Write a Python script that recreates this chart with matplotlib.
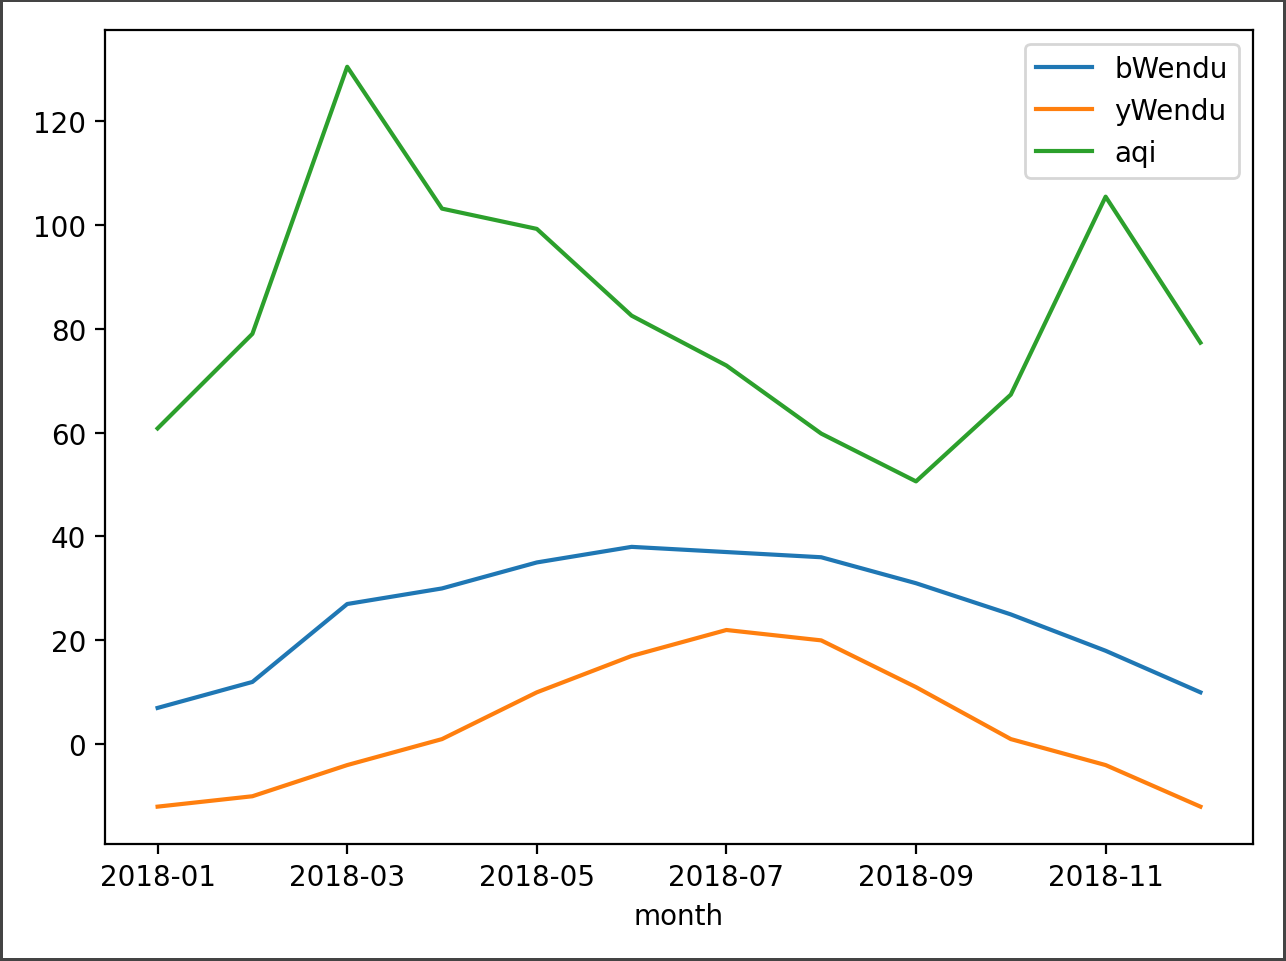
#!/usr/bin/env python

import numpy as np
import matplotlib
matplotlib.use("Agg")
import matplotlib.pyplot as plt

months = ['2018-%02d' % m for m in range(1, 13)]
bWendu = [7, 12, 27, 30, 35, 38, 37, 36, 31, 25, 18, 10]
yWendu = [-12, -10, -4, 1, 10, 17, 22, 20, 11, 1, -4, -12]
aqi = [60.8, 79.0, 130.4, 103.1, 99.2, 82.5, 72.9, 59.8, 50.6, 67.3, 105.4, 77.3]

xs = np.arange(len(months))

fig = plt.figure(figsize=(6.43, 4.81), dpi=200)
fig.patch.set_edgecolor('#444444')
fig.patch.set_linewidth(1.5)
ax = fig.add_subplot(111)
fig.subplots_adjust(left=0.082, right=0.974, top=0.968, bottom=0.122)

ax.plot(xs, bWendu, label='bWendu')
ax.plot(xs, yWendu, label='yWendu')
ax.plot(xs, aqi, label='aqi')

ax.set_xticks(xs[::2])
ax.set_xticklabels(months[::2])
ax.set_xlabel('month')
ax.legend(loc='upper right')

plt.savefig('out.png', dpi=200)
